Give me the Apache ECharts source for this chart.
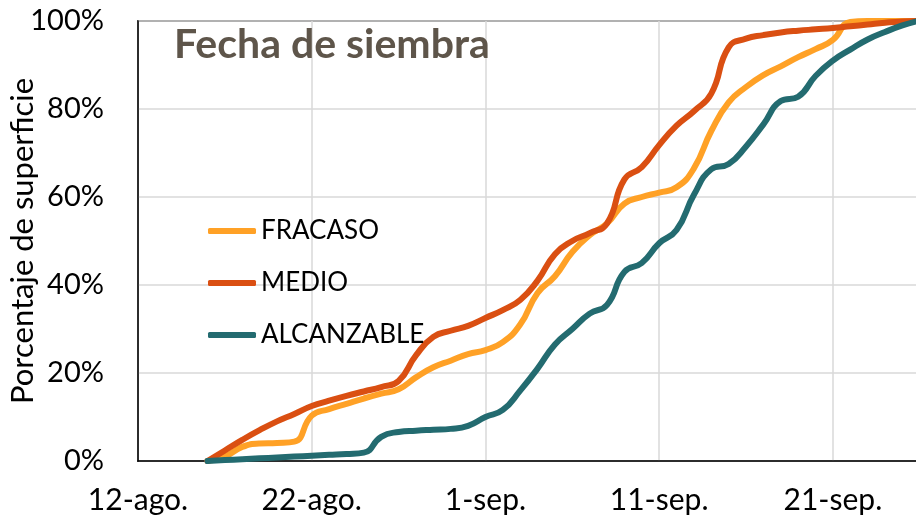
<!DOCTYPE html>
<html lang="es">
<head>
<meta charset="UTF-8">
<title>Fecha de siembra</title>
<style>
  html, body { margin: 0; padding: 0; background: #fff; }
  #chart { width: 916px; height: 519px; }
</style>
</head>
<body>
<div id="chart"></div>
<script src="https://cdn.jsdelivr.net/npm/echarts@6/dist/echarts.min.js"></script>
<script>
// días contados desde el 12-ago.
var days = [4, 5, 6, 7, 8, 9, 10, 11, 12, 13, 14, 15, 16, 17, 18, 19, 20, 21, 22, 23, 24,
  25, 26, 27, 28, 29, 30, 31, 32, 33, 34, 35, 36, 37, 38, 39, 40, 41, 42, 43, 44, 44.9];

var fracaso = [0, 1, 3.2, 4, 4.1, 4.4, 10.3, 11.8, 13, 14.2, 15.3, 16.3, 19, 21.3, 22.8, 24.3, 25.2,
  27, 31, 38.2, 42, 47.5, 51.3, 54, 58.5, 60, 61, 62.2, 66.5, 75, 81.5, 85, 87.7, 89.7, 91.8,
  93.6, 95.7, 99.8, 100, 100, 100, 100];

var medio = [0, 2.4, 4.8, 7, 9, 10.7, 12.5, 13.7, 14.8, 15.8, 16.8, 18.2, 24, 28.2, 29.6, 30.7,
  32.5, 34.3, 36.6, 41, 47, 50, 51.8, 54, 64, 66.8, 71.8, 76.2, 79.5, 83.5, 94, 96, 96.8, 97.4,
  97.8, 98.1, 98.4, 98.8, 99.2, 99.6, 99.9, 100];

var alcanzable = [0, 0.2, 0.4, 0.6, 0.8, 1, 1.2, 1.4, 1.6, 1.9, 5.5, 6.6, 6.9, 7.1, 7.3, 8, 10,
  11.6, 16, 21, 26.5, 30, 33.5, 35.5, 43, 45, 49.5, 52.5, 60.5, 66.3, 67.5, 71.5, 76.5, 81.8,
  82.8, 87.5, 91, 93.5, 95.8, 97.5, 99, 100];

var tickLabels = ['12-ago.', '22-ago.', '1-sep.', '11-sep.', '21-sep.'];

var font = 'Lato, "Liberation Sans", sans-serif';

function pairs(vals) {
  return days.map(function (d, i) { return [d, vals[i]]; });
}

var chart = echarts.init(document.getElementById('chart'));

var option = {
  animation: false,
  backgroundColor: '#ffffff',
  title: {
    text: 'Fecha de siembra',
    left: 174,
    top: 24,
    padding: 0,
    textStyle: { fontFamily: font, fontWeight: 'bold', fontSize: 41, color: '#5e554a' }
  },
  legend: {
    orient: 'vertical',
    left: 208,
    top: 218,
    padding: 0,
    icon: 'roundRect',
    itemWidth: 48,
    itemHeight: 6,
    itemGap: 26,
    textStyle: { fontFamily: font, fontSize: 26, color: '#000' },
    data: ['FRACASO', 'MEDIO', 'ALCANZABLE']
  },
  grid: {
    left: 138, top: 21, right: -2, bottom: 58,
    outerBoundsMode: 'none',
    containLabel: false,
    show: true, borderColor: '#000', borderWidth: 1.5
  },
  xAxis: {
    type: 'value',
    min: 0,
    max: 44.9,
    interval: 10,
    axisLine: { show: true, lineStyle: { color: '#000', width: 1.5 } },
    axisTick: { show: false },
    splitLine: { show: true, lineStyle: { color: '#d9d9d9', width: 1.5 } },
    axisLabel: {
      margin: 24,
      fontFamily: font,
      fontSize: 30,
      color: '#000',
      showMaxLabel: false,
      formatter: function (v) {
        var k = Math.round(v / 10);
        return (Math.abs(v - k * 10) < 0.01 && tickLabels[k]) ? tickLabels[k] : '';
      }
    }
  },
  yAxis: {
    type: 'value',
    min: 0,
    max: 100,
    interval: 20,
    name: 'Porcentaje de superficie',
    nameLocation: 'middle',
    nameGap: 100,
    nameMoveOverlap: false,
    nameTextStyle: { fontFamily: font, fontSize: 31, color: '#000' },
    axisLine: { show: true, lineStyle: { color: '#000', width: 1.5 } },
    axisTick: { show: false },
    splitLine: { show: true, lineStyle: { color: '#d9d9d9', width: 1.5 } },
    axisLabel: {
      margin: 34,
      fontFamily: font,
      fontSize: 29,
      color: '#000',
      formatter: '{value}%'
    }
  },
  series: [
    {
      name: 'FRACASO', type: 'line', smooth: 0.5, showSymbol: false,
      data: pairs(fracaso),
      itemStyle: { color: '#ffa126' },
      lineStyle: { width: 6, color: '#ffa126', cap: 'round' }
    },
    {
      name: 'MEDIO', type: 'line', smooth: 0.5, showSymbol: false,
      data: pairs(medio),
      itemStyle: { color: '#da4f12' },
      lineStyle: { width: 6, color: '#da4f12', cap: 'round' }
    },
    {
      name: 'ALCANZABLE', type: 'line', smooth: 0.5, showSymbol: false,
      data: pairs(alcanzable),
      itemStyle: { color: '#236b70' },
      lineStyle: { width: 6, color: '#236b70', cap: 'round' }
    }
  ]
};

chart.setOption(option);
</script>
</body>
</html>
